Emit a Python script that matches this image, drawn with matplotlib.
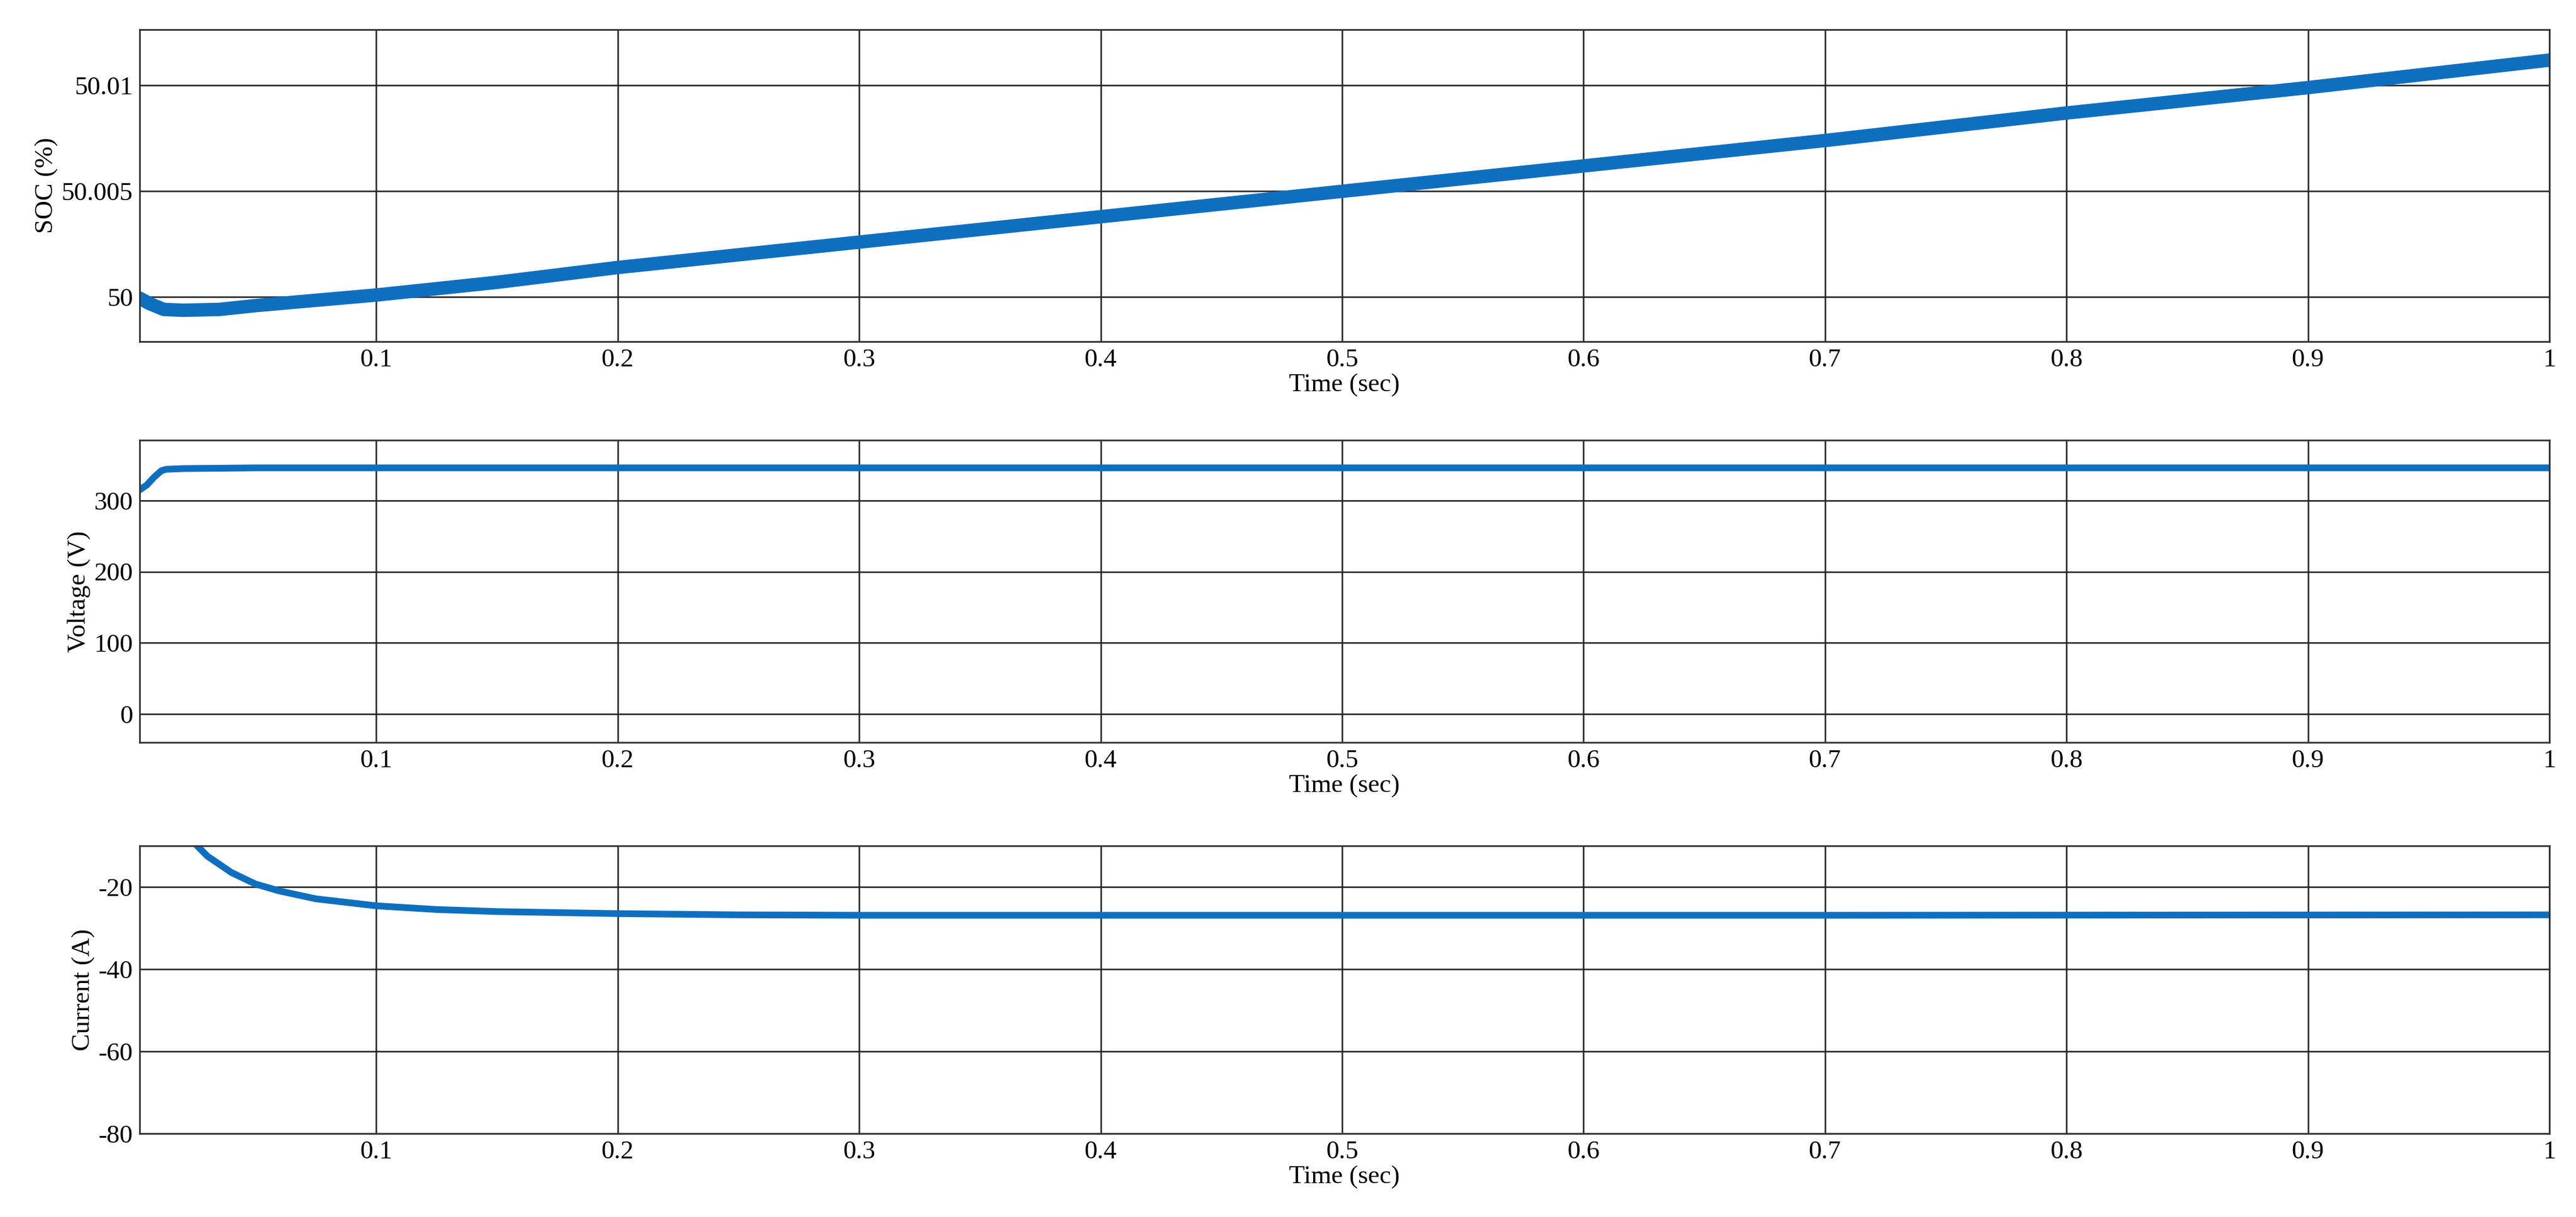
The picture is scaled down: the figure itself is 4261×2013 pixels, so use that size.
import matplotlib
matplotlib.use("Agg")
import matplotlib.pyplot as plt

plt.rcParams['font.family'] = ['Liberation Serif', 'DejaVu Serif']
plt.rcParams['axes.unicode_minus'] = False

# SOC (%) vs time
soc_t = [0.002, 0.006, 0.012, 0.02, 0.035, 0.05, 0.07, 0.1, 0.15, 0.2, 0.3, 0.4, 0.5,
         0.6, 0.7, 0.8, 0.9, 1.0]
soc_v = [49.99995, 49.9997, 49.99942, 49.99938, 49.99942, 49.9996, 49.9998, 50.0001,
         50.0007, 50.0014, 50.0026, 50.0038, 50.0050, 50.0062, 50.0074, 50.0087,
         50.0099, 50.0112]

# Voltage (V)
volt_t = [0.002, 0.005, 0.008, 0.011, 0.013, 0.02, 0.05, 0.1, 0.5, 1.0]
volt_v = [315, 322, 333, 342, 344, 345, 346, 346, 346, 346]

# Current (A)
cur_t = [0.025, 0.03, 0.04, 0.05, 0.06, 0.075, 0.1, 0.125, 0.15, 0.2, 0.25, 0.3, 0.5, 0.7, 1.0]
cur_v = [-9.5, -12.5, -16.5, -19.3, -21.0, -22.9, -24.6, -25.5, -26.0, -26.5, -26.8, -26.9,
         -26.9, -26.9, -26.8]

xticks = [0.1, 0.2, 0.3, 0.4, 0.5, 0.6, 0.7, 0.8, 0.9, 1]
xtick_labels = ["0.1", "0.2", "0.3", "0.4", "0.5", "0.6", "0.7", "0.8", "0.9", "1"]

blue = '#0f6fbf'
fig = plt.figure(figsize=(42.61, 20.13), dpi=100)
L, W = 231 / 4261, (4217 - 231) / 4261
boxes = [(49, 565), (728, 1228), (1399, 1875)]
axes = [fig.add_axes([L, 1 - b / 2013, W, (b - t) / 2013]) for t, b in boxes]

axes[0].plot(soc_t, soc_v, color=blue, linewidth=16, solid_capstyle='round')
axes[0].set_ylim(49.9979, 50.01264)
axes[0].set_yticks([50, 50.005, 50.01])
axes[0].set_yticklabels(["50", "50.005", "50.01"])
axes[0].set_ylabel("SOC (%)")

axes[1].plot(volt_t, volt_v, color=blue, linewidth=8)
axes[1].set_ylim(-40, 385)
axes[1].set_yticks([0, 100, 200, 300])
axes[1].set_ylabel("Voltage (V)")

axes[2].plot(cur_t, cur_v, color=blue, linewidth=8)
axes[2].set_ylim(-80, -10)
axes[2].set_yticks([-80, -60, -40, -20])
axes[2].set_ylabel("Current (A)")

for ax in axes:
    ax.set_xlim(0.002, 1.0)
    ax.set_xticks(xticks)
    ax.set_xticklabels(xtick_labels)
    ax.set_xlabel("Time (sec)", fontsize=31, labelpad=2)
    ax.yaxis.label.set_fontsize(31)
    ax.tick_params(labelsize=31, length=0, pad=8)
    ax.grid(True, color='#222222', linewidth=1.8)
    ax.set_axisbelow(True)
    for s in ax.spines.values():
        s.set_color('#333333')
        s.set_linewidth(2)

fig.savefig("out.png", dpi=100)
